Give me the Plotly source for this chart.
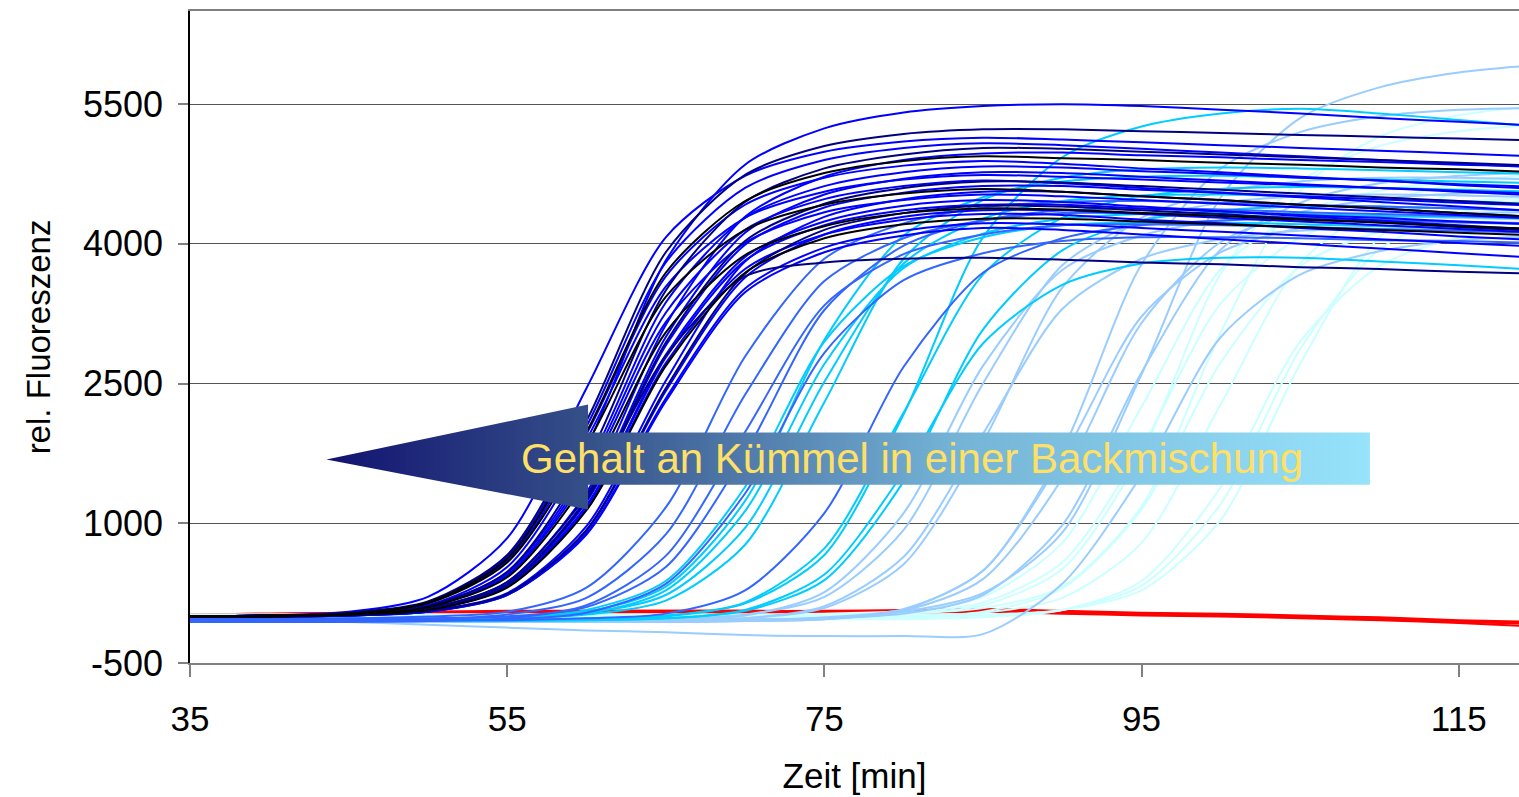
import plotly.graph_objects as go

# ---------------- data ----------------
TIME = [35, 40, 45, 50, 55, 60, 65, 70, 75, 80, 85, 90, 95, 100, 105, 110, 115, 120]

RED_CURVES = [
    [20, 30, 40, 50, 50, 60, 60, 60, 50, 60, 70, 50, 30, 20, 0, -20, -60, -80],
    [10, 20, 30, 40, 50, 50, 50, 40, 40, 50, 60, 40, 20, 10, -10, -30, -50, -70],
    [0, 10, 20, 30, 40, 40, 40, 30, 30, 40, 50, 30, 10, 0, -20, -40, -70, -110],
    [20, 30, 40, 50, 60, 60, 60, 60, 60, 70, 80, 60, 40, 30, 10, -10, -40, -60],
]

LIGHTCYAN_CURVES = [
    [20, 20, 20, 20, 20, 20, 20, 20, 30, 60, 210, 790, 2250, 3730, 4330, 4570, 4670, 4710],
    [10, 10, 10, 10, 10, 10, 10, 10, 20, 40, 150, 580, 1810, 3360, 4070, 4330, 4450, 4500],
    [0, 0, 0, 0, 0, 0, 0, 0, 0, 30, 120, 510, 1750, 3680, 4670, 5050, 5210, 5280],
    [-20, -20, -20, -20, -20, -20, -20, -20, -20, 0, 50, 300, 1150, 2730, 3760, 4130, 4290, 4350],
    [20, 20, 20, 20, 20, 20, 20, 20, 20, 30, 90, 320, 1180, 3050, 4570, 5150, 5380, 5480],
    [0, 0, 0, 0, 0, 0, 0, 0, 0, 10, 40, 200, 790, 2280, 3790, 4410, 4650, 4750],
    [-30, -30, -30, -30, -30, -30, -30, -30, -30, -30, -10, 70, 380, 1390, 2950, 3760, 4070, 4200],
    [-10, -10, -10, -10, -10, -10, -10, -10, -10, -10, 10, 70, 330, 1210, 2870, 3940, 4330, 4490],
    [10, 10, 10, 10, 10, 10, 10, 10, 10, 10, 20, 70, 280, 1040, 2710, 4070, 4580, 4780],
]

LIGHTBLUE_CURVES = [
    [-40, -40, -40, -40, -40, -40, -30, 20, 210, 930, 2500, 3770, 4250, 4440, 4510, 4530, 4520, 4500],
    [-30, -40, -50, -60, -60, -60, -40, 10, 260, 1110, 2690, 3720, 4090, 4250, 4290, 4300, 4280, 4260],
    [-50, -50, -50, -50, -50, -50, -40, -20, 90, 560, 1870, 3530, 4280, 4560, 4670, 4710, 4710, 4690],
    [-60, -60, -60, -60, -60, -60, -50, -20, 110, 640, 1960, 3300, 3840, 4050, 4140, 4160, 4160, 4150],
    [-30, -30, -40, -50, -60, -60, -60, -50, -30, 50, 250, 900, 2600, 4500, 5350, 5680, 5840, 5920],
    [-40, -50, -60, -60, -60, -60, -60, -50, -30, 70, 490, 1700, 3220, 3910, 4170, 4280, 4330, 4340],
    [-40, -40, -40, -40, -40, -40, -40, -40, -20, 60, 400, 1480, 3150, 4020, 4340, 4480, 4540, 4560],
    [-30, -40, -60, -90, -120, -150, -170, -200, -210, -210, -190, 350, 1520, 3000, 3670, 3920, 4040, 4080],
    [-30, -30, -30, -30, -30, -30, -30, -30, -20, 30, 230, 980, 2620, 3940, 4440, 4650, 4730, 4770],
    [-40, -40, -40, -40, -40, -40, -40, -40, -10, 80, 490, 1780, 3780, 4810, 5200, 5370, 5440, 5460],
]

SKYBLUE_CURVES = [
    [-30, -30, -30, -30, -10, 50, 320, 1240, 2970, 4090, 4500, 4670, 4720, 4730, 4710, 4690, 4670, 4650],
    [-20, -20, -20, -20, -10, 40, 230, 950, 2520, 3790, 4270, 4460, 4520, 4530, 4510, 4480, 4460, 4430],
    [-40, -40, -40, -40, -20, 30, 280, 1130, 2710, 3740, 4110, 4270, 4320, 4330, 4320, 4300, 4290, 4270],
    [-30, -30, -30, -30, -20, 20, 170, 770, 2300, 3840, 4470, 4710, 4800, 4820, 4810, 4790, 4770, 4750],
    [-30, -30, -30, -30, -30, -20, 10, 140, 660, 2170, 4070, 4930, 5260, 5400, 5450, 5400, 5330, 5260],
    [-40, -40, -40, -40, -40, -30, 0, 150, 730, 2190, 3670, 4280, 4510, 4590, 4610, 4600, 4580, 4560],
    [-40, -40, -40, -40, -40, -40, -20, 60, 390, 1450, 3080, 3930, 4250, 4360, 4400, 4400, 4380, 4360],
    [-50, -50, -50, -50, -50, -40, -20, 70, 450, 1550, 2930, 3560, 3790, 3850, 3850, 3810, 3770, 3720],
    [-30, -30, -30, -30, -10, 70, 380, 1390, 2950, 3760, 4070, 4200, 4230, 4230, 4210, 4190, 4170, 4150],
]

ROYAL_CURVES = [
    [-20, -20, -20, 0, 50, 310, 1170, 2790, 3840, 4220, 4390, 4450, 4460, 4440, 4420, 4400, 4380, 4360],
    [-40, -40, -40, -30, 20, 200, 880, 2380, 3600, 4060, 4250, 4330, 4330, 4310, 4280, 4260, 4230, 4210],
    [-60, -60, -60, -50, -20, 120, 650, 1980, 3340, 3890, 4100, 4200, 4210, 4200, 4180, 4160, 4140, 4120],
    [-30, -30, -30, -20, 0, 100, 530, 1750, 3290, 3980, 4250, 4360, 4380, 4370, 4340, 4320, 4300, 4270],
    [-50, -50, -50, -40, -30, 40, 350, 1320, 2830, 3610, 3900, 4030, 4070, 4070, 4060, 4040, 4030, 4010],
    [-40, -40, -40, -40, -40, -20, 30, 280, 1110, 2680, 3690, 4060, 4200, 4250, 4270, 4250, 4240, 4220],
]

BLUE_CURVES = [
    [0, 10, 30, 120, 530, 1820, 3820, 4850, 5240, 5410, 5480, 5500, 5480, 5440, 5400, 5350, 5310, 5270],
    [0, 10, 50, 210, 840, 2450, 4070, 4730, 4990, 5100, 5140, 5120, 5090, 5060, 5030, 5000, 4970, 4940],
    [0, 10, 30, 150, 640, 2040, 3800, 4600, 4900, 5030, 5080, 5060, 5020, 4980, 4940, 4900, 4860, 4820],
    [0, 0, 20, 80, 370, 1330, 3130, 4290, 4720, 4900, 4970, 4980, 4950, 4930, 4900, 4880, 4850, 4830],
    [0, 10, 30, 150, 620, 1960, 3650, 4420, 4710, 4840, 4890, 4860, 4810, 4770, 4720, 4680, 4630, 4590],
    [0, 10, 20, 110, 470, 1600, 3370, 4280, 4620, 4770, 4830, 4820, 4780, 4750, 4710, 4680, 4640, 4610],
    [0, 0, 20, 80, 350, 1270, 3000, 4120, 4530, 4700, 4770, 4760, 4720, 4680, 4640, 4600, 4560, 4520],
    [0, 10, 30, 140, 600, 1900, 3540, 4280, 4560, 4690, 4740, 4720, 4690, 4660, 4630, 4600, 4570, 4540],
    [0, 10, 20, 110, 450, 1550, 3260, 4150, 4480, 4620, 4680, 4650, 4600, 4550, 4500, 4450, 4400, 4350],
    [0, 0, 20, 80, 340, 1230, 2910, 3990, 4390, 4550, 4620, 4620, 4580, 4550, 4510, 4480, 4440, 4410],
    [0, 0, 10, 60, 250, 970, 2530, 3810, 4290, 4480, 4560, 4560, 4510, 4470, 4420, 4380, 4330, 4290],
    [0, 10, 20, 100, 440, 1500, 3160, 4010, 4340, 4470, 4530, 4510, 4470, 4430, 4390, 4350, 4310, 4270],
    [0, 0, 20, 70, 330, 1190, 2810, 3860, 4240, 4410, 4470, 4450, 4400, 4350, 4300, 4250, 4200, 4150],
    [0, 0, 20, 70, 320, 1180, 2780, 3820, 4200, 4360, 4420, 4420, 4380, 4350, 4310, 4280, 4240, 4210],
    [0, 0, 10, 50, 240, 920, 2420, 3640, 4100, 4290, 4360, 4360, 4320, 4280, 4240, 4200, 4160, 4120],
    [0, 0, 20, 70, 320, 1150, 2720, 3730, 4100, 4260, 4320, 4310, 4260, 4220, 4170, 4130, 4080, 4040],
    [0, 0, 10, 50, 230, 890, 2340, 3520, 3960, 4140, 4220, 4210, 4170, 4130, 4090, 4050, 4010, 3970],
    [0, 0, 10, 50, 230, 880, 2310, 3480, 3910, 4090, 4170, 4150, 4100, 4050, 4000, 3950, 3900, 3850],
]

NAVY_CURVES = [
    [0, 10, 40, 160, 660, 2100, 3910, 4740, 5050, 5180, 5230, 5230, 5210, 5190, 5170, 5150, 5130, 5110],
    [0, 10, 30, 110, 480, 1670, 3500, 4450, 4810, 4960, 5030, 5020, 4990, 4960, 4930, 4900, 4870, 4840],
    [0, 0, 20, 80, 340, 1250, 2940, 4030, 4430, 4600, 4670, 4660, 4620, 4580, 4540, 4500, 4460, 4420],
    [0, 0, 10, 60, 240, 930, 2450, 3680, 4150, 4330, 4410, 4400, 4360, 4320, 4270, 4230, 4180, 4140],
    [0, 0, 20, 90, 370, 1300, 2800, 3650, 3800, 3840, 3850, 3830, 3800, 3780, 3750, 3730, 3700, 3680],
]

BLACK_CURVES = [
    [0, 10, 30, 150, 620, 1980, 3690, 4460, 4760, 4890, 4940, 4920, 4900, 4870, 4850, 4820, 4800, 4770],
    [0, 10, 30, 140, 580, 1840, 3430, 4150, 4420, 4540, 4590, 4560, 4510, 4470, 4420, 4380, 4330, 4290],
    [0, 0, 20, 100, 420, 1450, 3050, 3880, 4190, 4330, 4380, 4370, 4330, 4300, 4260, 4230, 4190, 4160],
    [0, 0, 20, 70, 310, 1140, 2690, 3690, 4060, 4210, 4270, 4270, 4240, 4210, 4180, 4150, 4120, 4090],
]

X_TICKS = [35, 55, 75, 95, 115]
Y_TICKS = [-500, 1000, 2500, 4000, 5500]
X_TITLE = "Zeit [min]"
Y_TITLE = "rel. Fluoreszenz"
ARROW_TEXT = "Gehalt an Kümmel in einer Backmischung"

# ---------------- styles ----------------
FAMILIES = [
    (RED_CURVES, "#FF0000"),
    (LIGHTCYAN_CURVES, "#CCFFFF"),
    (LIGHTBLUE_CURVES, "#99CCFF"),
    (SKYBLUE_CURVES, "#00CCFF"),
    (ROYAL_CURVES, "#3366FF"),
    (BLUE_CURVES, "#0000FF"),
    (NAVY_CURVES, "#000080"),
    (BLACK_CURVES, "#000000"),
]

FONT = "Liberation Sans, Arial, sans-serif"

fig = go.Figure()
for curves, color in FAMILIES:
    for ys in curves:
        fig.add_trace(go.Scatter(
            x=TIME, y=ys, mode="lines",
            line=dict(color=color, width=2, shape="spline", smoothing=0.8),
            hoverinfo="skip", showlegend=False,
        ))

# gradient arrow (decoration drawn over the curves)
ARROW_X = [43.6, 60.1, 60.1, 109.4, 109.4, 60.1, 60.1, 43.6]
ARROW_Y = [1684, 2274, 1974, 1974, 1415, 1415, 1147, 1684]
fig.add_trace(go.Scatter(
    x=ARROW_X, y=ARROW_Y, mode="lines", fill="toself",
    line=dict(width=0, color="rgba(0,0,0,0)"),
    fillgradient=dict(type="horizontal",
                      colorscale=[[0, "#121270"], [0.25, "#355089"],
                                  [0.6, "#74b3d6"], [1, "#97e3fb"]]),
    hoverinfo="skip", showlegend=False,
))

fig.add_annotation(
    x=80.5, y=1694, xref="x", yref="y", text=ARROW_TEXT, showarrow=False,
    font=dict(family=FONT, size=42, color="#FFE066"),
    xanchor="center", yanchor="middle",
)

fig.update_layout(
    width=1519, height=797,
    margin=dict(l=190, r=0, t=11, b=134),
    paper_bgcolor="white", plot_bgcolor="white",
    font=dict(family=FONT, color="black"),
    showlegend=False,
)

fig.update_xaxes(
    range=[35, 118.8], tickmode="array", tickvals=X_TICKS,
    ticktext=[str(v) for v in X_TICKS],
    tickfont=dict(size=35, family=FONT, color="black"),
    ticks="outside", ticklen=12, tickcolor="#808080", tickwidth=1.5,
    ticklabelstandoff=12,
    showline=True, linecolor="#808080", linewidth=2, mirror=True,
    showgrid=False, zeroline=False,
    title=dict(text=X_TITLE, font=dict(size=35, family=FONT, color="black"), standoff=26),
)

fig.update_yaxes(
    range=[-500, 6500], tickmode="array", tickvals=Y_TICKS,
    ticktext=[str(v) for v in Y_TICKS],
    tickfont=dict(size=36, family=FONT, color="black"),
    ticks="outside", ticklen=10, tickcolor="#808080", tickwidth=1.5,
    ticklabelstandoff=8,
    showline=True, linecolor="black", linewidth=1.5, mirror=False,
    showgrid=True, gridcolor="#555555", gridwidth=1.2, zeroline=False,
    title=dict(text=Y_TITLE, font=dict(size=33, family=FONT, color="black"), standoff=22),
)

fig.write_html("out.html", config={"displayModeBar": False},
               post_script="document.body.style.margin='0px';document.body.style.overflow='hidden';")
